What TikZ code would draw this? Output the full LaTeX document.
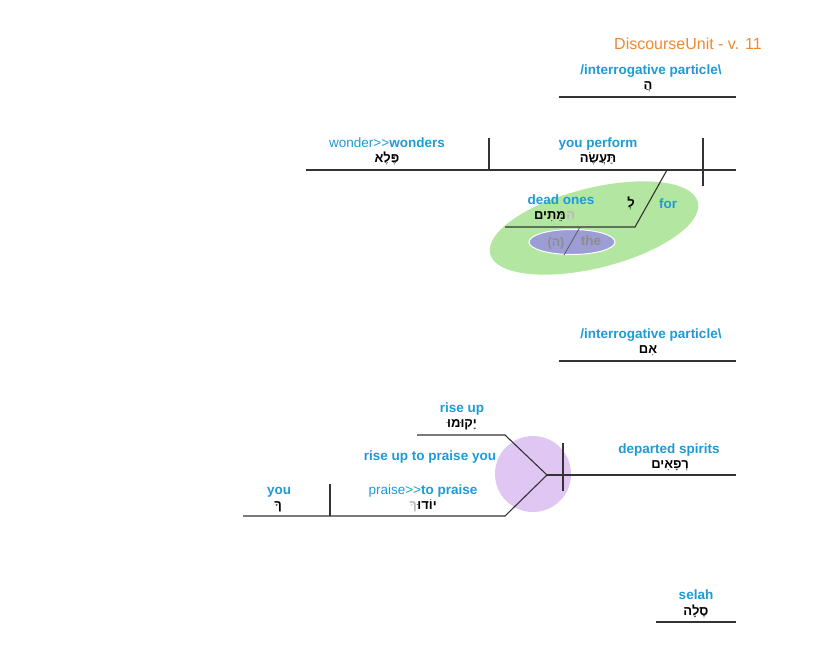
\documentclass[tikz,border=0pt]{standalone}
\usepackage{fontspec}
\usetikzlibrary{shapes.geometric}
\setmainfont{Liberation Sans}
\newfontfamily\heb[Script=Hebrew]{Liberation Sans}
\TeXXeTstate=1
\definecolor{lblue}{HTML}{1E9AD6}
\definecolor{ttlorange}{HTML}{EE8A2F}
\definecolor{greenfill}{HTML}{B3E6A0}
\definecolor{bluefill}{HTML}{9D9DD6}
\definecolor{violetfill}{HTML}{E0C6F3}
\definecolor{linec}{HTML}{333333}
\begin{document}
\begin{tikzpicture}[x=1pt,y=-1pt,
  lbl/.style={text=lblue,font=\fontsize{13.5}{15}\selectfont\bfseries,inner sep=0pt,anchor=base},
  lbm/.style={text=lblue,font=\fontsize{13.5}{15}\selectfont,inner sep=0pt,anchor=base},
  hb/.style={font=\fontsize{13}{15}\selectfont\heb\bfseries,inner sep=0pt,anchor=base},
  gr/.style={text=gray!90,font=\fontsize{13.5}{15}\selectfont\bfseries,inner sep=0pt,anchor=base},
  ln/.style={draw=linec,line width=1.1pt}]
\useasboundingbox (0,0) rectangle (825,657);

% title
\node[text=ttlorange,font=\fontsize{16}{18}\selectfont,inner sep=0pt,anchor=base] (title) at (688,49) {DiscourseUnit - v. 11};

% first interrogative
\node[lbl] (q1l) at (651,74) {/interrogative particle\textbackslash};
\node[hb] (q1h) at (648,89.5) {\beginR הֲ\endR};
\coordinate (q1a) at (559,97); \coordinate (q1b) at (736,97);
\draw[ln] (q1a) -- (q1b);

% green ellipse and blue ellipse
\node[draw=none,fill=greenfill,ellipse,minimum width=214pt,minimum height=80pt,rotate=14] (gell) at (594,228) {};
\node[draw=white,line width=1pt,fill=bluefill,ellipse,minimum width=86pt,minimum height=25pt] (bell) at (572,242) {};

% main clause
\coordinate (m1) at (306,170); \coordinate (m2) at (736,170);
\draw[ln] (m1) -- (m2);
\coordinate (d1a) at (489,138); \coordinate (d1b) at (489,170);
\draw[ln] (d1a) -- (d1b);
\coordinate (d2a) at (703,138); \coordinate (d2b) at (703,186);
\draw[ln] (d2a) -- (d2b);
\node[lbm] (won) at (387,147) {wonder>{}>\textbf{wonders}};
\node[hb] (wonh) at (387,162.5) {\beginR פֶּלֶא\endR};
\node[lbl] (perf) at (598,147) {you perform};
\node[hb] (perfh) at (598,162.5) {\beginR תַּעֲשֶׂה\endR};

% prepositional phrase
\coordinate (p1) at (667,170); \coordinate (p2) at (635,227); \coordinate (p3) at (505,227);
\draw[ln] (p1) -- (p2) -- (p3);
\node[lbl] (for) at (668,208) {for};
\node[hb] (forh) at (631,207.5) {\beginR לְ\endR};
\node[lbl] (dead) at (561,204) {dead ones};
\node[hb] (deadh) at (550,219.5) {\beginR מֵּתִים\endR};
\node[hb,anchor=base west,text=gray!55] (deadh2) at (deadh.base east) {\beginR הַ\endR};
\coordinate (a1) at (580,227); \coordinate (a2) at (564,255);
\draw[draw=linec!80,line width=0.8pt] (a1) -- (a2);
\node[gr,font=\fontsize{12.5}{14}\selectfont\heb\bfseries] (theh) at (556,246.5) {(ה)};
\node[gr] (the) at (591,245) {the};

% second interrogative
\node[lbl] (q2l) at (651,338) {/interrogative particle\textbackslash};
\node[hb] (q2h) at (648,353.5) {\beginR אִם\endR};
\coordinate (q2a) at (559,361); \coordinate (q2b) at (736,361);
\draw[ln] (q2a) -- (q2b);

% violet circle
\node[circle,fill=violetfill,minimum size=76pt,inner sep=0pt] (vc) at (533,474) {};

% compound
\coordinate (r1) at (417,435); \coordinate (r2) at (505,435);
\coordinate (j) at (547,475);
\coordinate (s1) at (243,516); \coordinate (s2) at (505,516);
\draw[ln] (r1) -- (r2) -- (j);
\draw[ln] (s1) -- (s2) -- (j);
\coordinate (v1a) at (330,484); \coordinate (v1b) at (330,516);
\draw[ln] (v1a) -- (v1b);
\coordinate (e2) at (736,475);
\draw[ln] (j) -- (e2);
\coordinate (v2a) at (563,443); \coordinate (v2b) at (563,491);
\draw[ln] (v2a) -- (v2b);

\node[lbl] (rise) at (462,412) {rise up};
\node[hb] (riseh) at (462,427.5) {\beginR יָקוּמוּ\endR};
\node[lbl] (risep) at (430,460) {rise up to praise you};
\node[lbm] (pr) at (423,494) {praise>{}>\textbf{to praise}};
\node[hb] (prh) at (427,509.5) {\beginR יוֹדוּ\endR};
\node[hb,anchor=base east,text=gray!55] (prh2) at (prh.base west) {\beginR ךָ\endR};
\node[lbl] (you) at (279,494) {you};
\node[hb] (youh) at (278,509.5) {\beginR ךָ\endR};
\node[lbl] (dep) at (669,453) {departed spirits};
\node[hb] (deph) at (670,468.5) {\beginR רְפָאִים\endR};

% selah
\node[lbl] (sel) at (696,599) {selah};
\node[hb] (selh) at (696,615.5) {\beginR סֶלָה\endR};
\coordinate (sl1) at (656,622); \coordinate (sl2) at (736,622);
\draw[ln] (sl1) -- (sl2);
\end{tikzpicture}
\end{document}
